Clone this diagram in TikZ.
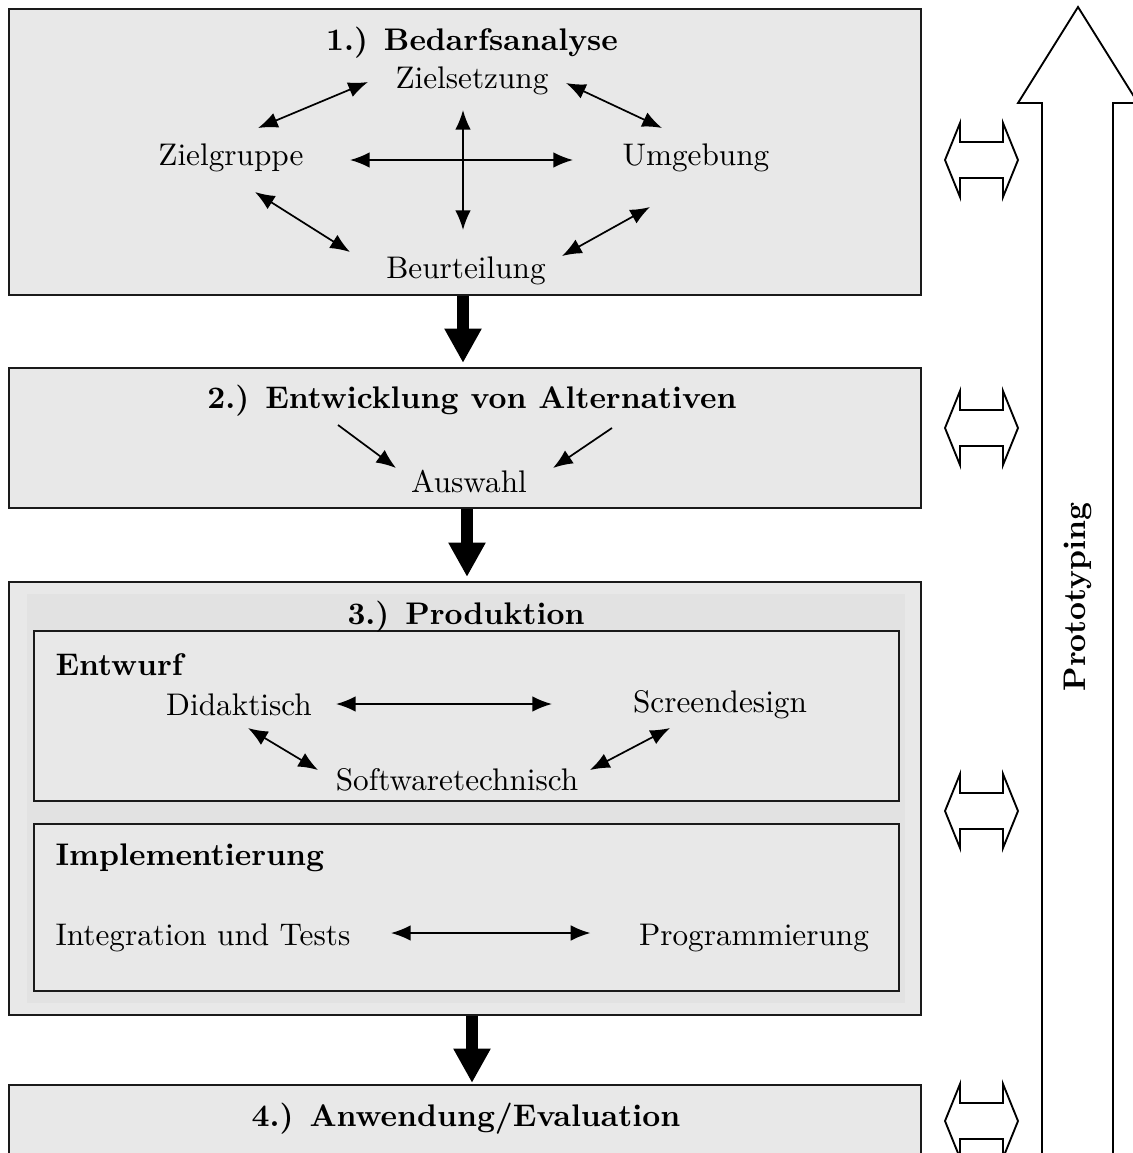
\documentclass[tikz,border=0pt]{standalone}
\usetikzlibrary{arrows.meta,fit}
\definecolor{boxgray}{HTML}{E8E8E8}
\definecolor{innergray}{HTML}{E2E2E2}
\definecolor{edge}{HTML}{1A1A1A}
\begin{document}
\begin{tikzpicture}[x=0.32pt,y=-0.32pt,
  phase/.style={draw=edge, line width=0.7pt, fill=boxgray, inner sep=0pt},
  subbox/.style={draw=edge, line width=0.7pt, fill=boxgray, inner sep=0pt},
  lbl/.style={inner sep=0pt, font=\normalsize},
  ttl/.style={inner sep=0pt, font=\bfseries},
  dbl/.style={{Latex[length=6.3pt,width=5pt]}-{Latex[length=6.3pt,width=5pt]}, line width=0.55pt},
  one/.style={-{Latex[length=6.3pt,width=5pt]}, line width=0.55pt},
  flow/.style={-{Triangle[length=11pt,width=11.2pt]}, line width=3.6pt},
  hollow/.style={draw=black, line width=0.6pt, fill=white, line join=miter}
]
\useasboundingbox (0,0) rectangle (1133,1153);
\clip (0,0) rectangle (1133,1153);

% phase frames
\node[phase, fit={(9,9) (921,295)}] (p1) {};
\node[phase, fit={(9,368) (921,508)}] (p2) {};
\node[phase, fit={(9,582) (921,1015)}] (p3) {};
\node[phase, fit={(9,1085) (921,1180)}] (p4) {};
\fill[innergray] (27,594) rectangle (905,1003);
\node[subbox, fit={(34,631) (899,801)}] (entwurf) {};
\node[subbox, fit={(34,824) (899,991)}] (impl) {};

% 1.) Bedarfsanalyse
\node[ttl] (t1) at (472,43) {1.) Bedarfsanalyse};
\node[lbl] (zs) at (472,81) {Zielsetzung};
\node[lbl] (zg) at (231,158) {Zielgruppe};
\node[lbl] (ug) at (696,158) {Umgebung};
\node[lbl] (bt) at (466,271) {Beurteilung};
\draw[dbl] ([shift={(27,-30)}]zg.center) -- ([shift={(-104,1)}]zs.center);
\draw[dbl] ([shift={(94,2)}]zs.center) -- ([shift={(-34,-30)}]ug.center);
\draw[dbl] ([shift={(24,34)}]zg.center) -- ([shift={(-116,-19)}]bt.center);
\draw[dbl] ([shift={(-46,49)}]ug.center) -- ([shift={(96,-15)}]bt.center);
\draw[dbl] ([shift={(119,2)}]zg.center) -- ([shift={(-123,2)}]ug.center);
\draw[dbl] ([shift={(-9,29)}]zs.center) -- ([shift={(-3,-41)}]bt.center);

% 2.) Entwicklung von Alternativen
\node[ttl] (t2) at (472,401) {2.) Entwicklung von Alternativen};
\node[lbl] (aw) at (469,481) {Auswahl};
\draw[one] ([shift={(-134,24)}]t2.center) -- ([shift={(-73,-13)}]aw.center);
\draw[one] ([shift={(140,27)}]t2.center) -- ([shift={(84,-13)}]aw.center);

% 3.) Produktion
\node[ttl] (t3) at (466,617) {3.) Produktion};
\node[ttl, anchor=west] (te) at (55,665) {Entwurf};
\node[lbl] (di) at (239,705) {Didaktisch};
\node[lbl] (sd) at (720,705) {Screendesign};
\node[lbl] (sw) at (457,780) {Softwaretechnisch};
\draw[dbl] ([shift={(97,-1)}]di.center) -- ([shift={(-168,-1)}]sd.center);
\draw[dbl] ([shift={(9,23)}]di.center) -- ([shift={(-139,-10)}]sw.center);
\draw[dbl] ([shift={(-50,23)}]sd.center) -- ([shift={(133,-10)}]sw.center);
\node[ttl, anchor=west] (ti) at (55,858) {Implementierung};
\node[lbl, anchor=west] (it) at (55,938) {Integration und Tests};
\node[lbl] (pg) at (754,938) {Programmierung};
\draw[dbl] ([shift={(40,-5)}]it.east) -- ([shift={(-48,-5)}]pg.west);

% 4.) Anwendung/Evaluation
\node[ttl] (t4) at (466,1119) {4.) Anwendung/Evaluation};

% flow between phases
\draw[flow] ([shift={(-2,0)}]p1.south) -- ([shift={(-2,-4)}]p2.north);
\draw[flow] ([shift={(2,0)}]p2.south) -- ([shift={(2,-4)}]p3.north);
\draw[flow] ([shift={(7,0)}]p3.south) -- ([shift={(7,-1)}]p4.north);

% feedback arrows to the prototyping cycle
\foreach \c/\n in {160/f1, 428/f2, 811/f3, 1121/f4}{
  \coordinate (\n) at (981,\c);
  \draw[hollow] ([shift={(-36,0)}]\n) -- ([shift={(-21,-37)}]\n) -- ([shift={(-21,-18)}]\n)
    -- ([shift={(22,-18)}]\n) -- ([shift={(22,-37)}]\n) -- ([shift={(37,0)}]\n)
    -- ([shift={(22,37)}]\n) -- ([shift={(22,18)}]\n) -- ([shift={(-21,18)}]\n)
    -- ([shift={(-21,37)}]\n) -- cycle;
}

% prototyping arrow
\coordinate (ptip) at (1078,7);
\draw[hollow] (1042,1170) -- (1042,103) -- (1018,103) -- (ptip) -- (1138,103)
  -- (1113,103) -- (1113,1170);
\node[ttl, rotate=90] (pt) at (1078,597) {Prototyping};
\end{tikzpicture}
\end{document}
